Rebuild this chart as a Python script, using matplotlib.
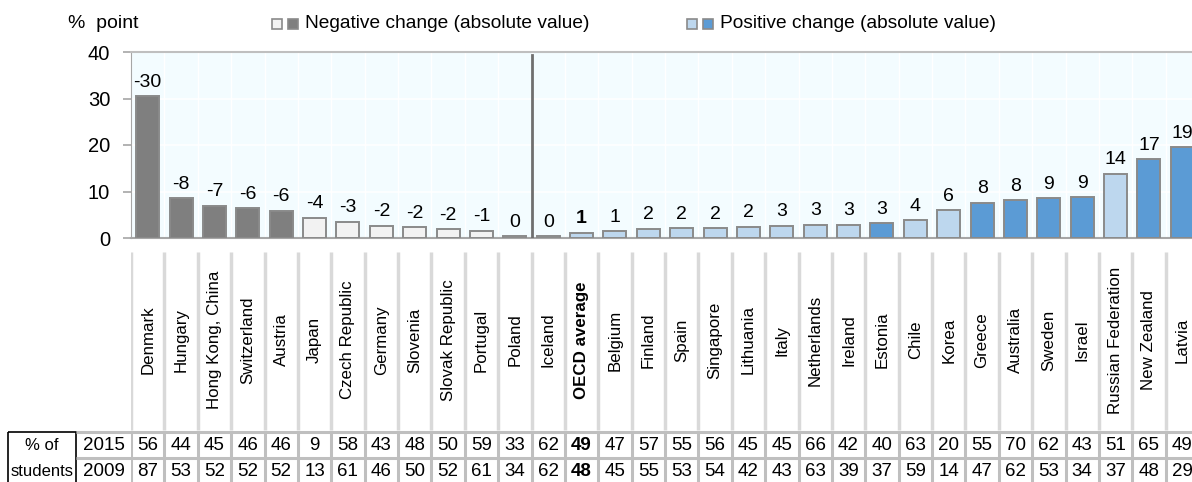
import numpy as np
import matplotlib
matplotlib.use('Agg')
import matplotlib.pyplot as plt
from matplotlib.patches import Rectangle

plt.rcParams['font.family'] = ['Liberation Sans', 'DejaVu Sans']
NARROW = ['Liberation Sans Narrow', 'Liberation Sans', 'DejaVu Sans']

# データ
countries = ['Denmark', 'Hungary', 'Hong Kong, China', 'Switzerland', 'Austria', 'Japan',
             'Czech Republic', 'Germany', 'Slovenia', 'Slovak Republic', 'Portugal', 'Poland',
             'Iceland', 'OECD average', 'Belgium', 'Finland', 'Spain', 'Singapore', 'Lithuania',
             'Italy', 'Netherlands', 'Ireland', 'Estonia', 'Chile', 'Korea', 'Greece',
             'Australia', 'Sweden', 'Israel', 'Russian Federation', 'New Zealand', 'Latvia']
change = [-30.5, -8.5, -6.9, -6.4, -5.9, -4.4, -3.5, -2.6, -2.3, -1.9, -1.6, -0.4,
          0.4, 1.1, 1.4, 2.0, 2.1, 2.1, 2.4, 2.6, 2.9, 2.9, 3.2, 3.8, 6.0, 7.6,
          8.1, 8.5, 8.75, 13.8, 16.9, 19.5]
change_labels = ['-30', '-8', '-7', '-6', '-6', '-4', '-3', '-2', '-2', '-2', '-1', '0',
                 '0', '1', '1', '2', '2', '2', '2', '3', '3', '3', '3', '4', '6', '8',
                 '8', '9', '9', '14', '17', '19']
significant = [True, True, True, True, True, False, False, False, False, False, False, False,
               False, False, False, False, False, False, False, False, False, False, True, False,
               False, True, True, True, True, False, True, True]
pct_2015 = [56, 44, 45, 46, 46, 9, 58, 43, 48, 50, 59, 33, 62, 49, 47, 57, 55, 56, 45, 45,
            66, 42, 40, 63, 20, 55, 70, 62, 43, 51, 65, 49]
pct_2009 = [87, 53, 52, 52, 52, 13, 61, 46, 50, 52, 61, 34, 62, 48, 45, 55, 53, 54, 42, 43,
            63, 39, 37, 59, 14, 47, 62, 53, 34, 37, 48, 29]
highlight = 'OECD average'

NEG_LIGHT, NEG_DARK = '#F2F2F2', '#7F7F7F'
POS_LIGHT, POS_DARK = '#BDD7EE', '#5B9BD5'

W, H = 1192, 482
fig = plt.figure(figsize=(W / 100, H / 100), dpi=100)

x = np.arange(len(countries))
heights = np.abs(change)
colors = []
for v, s in zip(change, significant):
    if v < 0:
        colors.append(NEG_DARK if s else NEG_LIGHT)
    else:
        colors.append(POS_DARK if s else POS_LIGHT)

# メイングラフ
left_px, right_px, top_px, zero_px = 131, 1199, 52, 238
ax = fig.add_axes([left_px / W, 1 - zero_px / H, (right_px - left_px) / W, (zero_px - top_px) / H])
ax.set_facecolor('#F3FCFF')
bars = ax.bar(x, heights, width=0.69, color=colors, edgecolor='#8A8A8A', linewidth=1.4, zorder=3)
lbls = ax.bar_label(bars, labels=change_labels, padding=4, fontsize=14, family=NARROW)
for t, c in zip(lbls, countries):
    if c == highlight:
        t.set_fontweight('bold')

ax.set_xlim(-0.5, len(countries) - 0.5)
ax.set_ylim(0, 40)
ax.set_yticks([0, 10, 20, 30, 40])
ax.set_xticks([])
ax.set_xticks(np.arange(-0.5, len(countries)), minor=True)
ax.grid(axis='y', color='white', linewidth=1.2, zorder=0)
ax.grid(axis='x', which='minor', color='white', linewidth=1.0, zorder=0)
ax.tick_params(axis='y', direction='out', length=6, color='#A6A6A6', width=1.2, pad=9,
               labelsize=14.5)
ax.tick_params(axis='x', which='minor', length=0)
for t in ax.get_yticklabels():
    t.set_family(NARROW)
ax.spines['right'].set_visible(False)
ax.spines['top'].set_color('#BFBFBF')
ax.spines['top'].set_linewidth(1.5)
ax.spines['left'].set_color('#A6A6A6')
ax.spines['bottom'].set_color('#A6A6A6')
ax.spines['bottom'].set_linewidth(1.5)

# 負/正の区切り線
split = countries.index('Iceland') - 0.5
ax.plot([split, split], [0, 39.4], color='#6F6F6F', linewidth=2, zorder=4)

fig.text(68 / W, 1 - 24 / H, '%  point', fontsize=14, family=NARROW, va='center', ha='left')

# 凡例
def legend_item(x0, light, dark, text):
    for k, c in enumerate([light, dark]):
        fig.add_artist(Rectangle(((x0 + k * 16) / W, 1 - 29 / H), 10 / W, 10 / H,
                                 transform=fig.transFigure, facecolor=c,
                                 edgecolor='#8A8A8A', linewidth=1.2))
    fig.text((x0 + 33) / W, 1 - 24 / H, text, fontsize=13.8, va='center', ha='left')

legend_item(272, NEG_LIGHT, NEG_DARK, 'Negative change (absolute value)')
legend_item(687, POS_LIGHT, POS_DARK, 'Positive change (absolute value)')

# 国名ラベルと表
ax2 = fig.add_axes([left_px / W, 0, (right_px - left_px) / W, (H - 240) / H])
ax2.set_xlim(-0.5, len(countries) - 0.5)
ax2.set_ylim(H, 240)
ax2.axis('off')

bounds = np.arange(-0.5, len(countries))
ax2.vlines(bounds, 252, 430, color='#D9D9D9', linewidth=2.5)
ax2.vlines(bounds, 432, H, color='#BFBFBF', linewidth=2.2)
px_unit = (right_px - left_px) / len(countries)
box_l = -0.5 - (left_px - 8) / px_unit
box_r = -0.5 - (left_px - 76) / px_unit
ax2.hlines([432, 458], box_r, len(countries) - 0.5, color='#BFBFBF', linewidth=2.2, clip_on=False)
ax2.add_patch(Rectangle((box_l, 432), box_r - box_l, 52, facecolor='none',
                        edgecolor='black', linewidth=1.2, clip_on=False))
ax2.text((box_l + box_r) / 2, 445, '% of', fontsize=12, family=NARROW, ha='center', va='center', clip_on=False)
ax2.text((box_l + box_r) / 2, 471, 'students', fontsize=12, family=NARROW, ha='center', va='center', clip_on=False)
ax2.text((box_r - 0.5) / 2, 445, '2015', fontsize=13.5, family=NARROW, ha='center', va='center', clip_on=False)
ax2.text((box_r - 0.5) / 2, 471, '2009', fontsize=13.5, family=NARROW, ha='center', va='center', clip_on=False)

for i, c in enumerate(countries):
    w = 'bold' if c == highlight else 'normal'
    ax2.text(i, 340, c, rotation=90, fontsize=12.2, ha='center', va='center', fontweight=w)
    ax2.text(i, 445, str(pct_2015[i]), fontsize=13.5, family=NARROW, ha='center', va='center', fontweight=w)
    ax2.text(i, 471, str(pct_2009[i]), fontsize=13.5, family=NARROW, ha='center', va='center', fontweight=w)

fig.savefig('out.png', dpi=100)
